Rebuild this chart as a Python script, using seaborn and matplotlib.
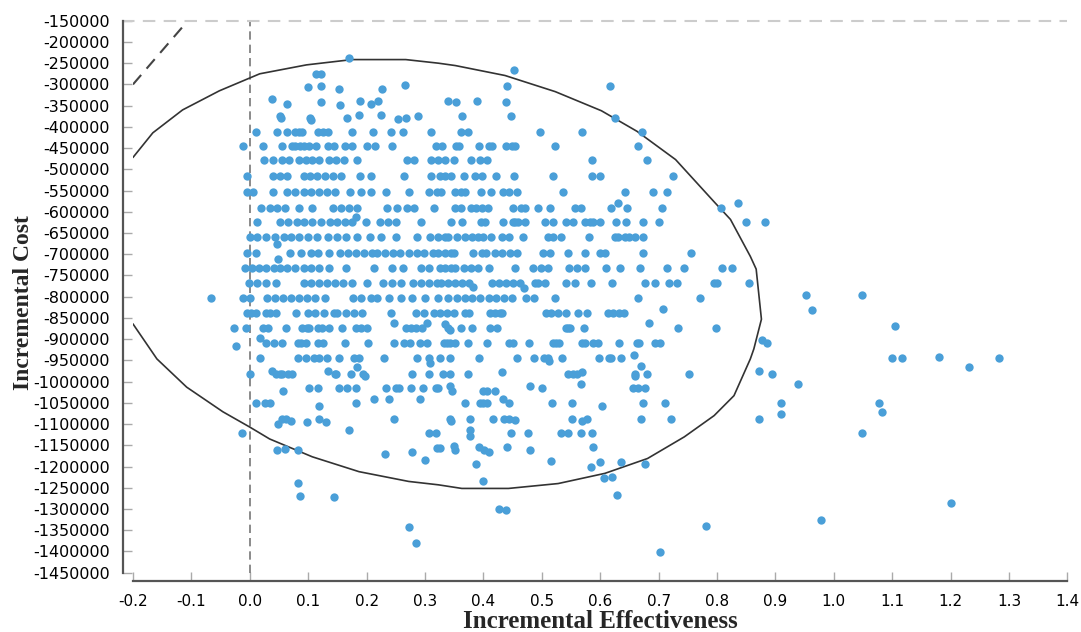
import numpy as np
import pandas as pd
import seaborn as sns
import matplotlib.pyplot as plt

# Incremental effectiveness values, one list per cost band (y)
eff_413 = [0.010, 0.046, 0.063, 0.078, 0.085, 0.090, 0.117, 0.126, 0.134, 0.175, 0.211, 0.242, 0.262,
           0.310, 0.362, 0.373, 0.497, 0.569, 0.671]
eff_446 = [-0.012, 0.022, 0.056, 0.072, 0.077, 0.086, 0.093, 0.101, 0.113, 0.134, 0.144, 0.163, 0.175,
           0.200, 0.214, 0.244, 0.319, 0.329, 0.353, 0.359, 0.392, 0.409, 0.414, 0.439, 0.449, 0.454,
           0.523, 0.665]
eff_479 = [0.025, 0.039, 0.056, 0.068, 0.085, 0.097, 0.107, 0.119, 0.136, 0.148, 0.161, 0.184, 0.269,
           0.282, 0.311, 0.323, 0.335, 0.349, 0.378, 0.395, 0.407, 0.586, 0.680]
eff_516 = [-0.004, 0.040, 0.052, 0.063, 0.092, 0.103, 0.115, 0.129, 0.143, 0.156, 0.189, 0.207, 0.264,
           0.311, 0.325, 0.335, 0.345, 0.366, 0.385, 0.397, 0.422, 0.453, 0.520, 0.586, 0.600, 0.724]
eff_554 = [-0.004, 0.005, 0.039, 0.064, 0.078, 0.092, 0.105, 0.119, 0.132, 0.146, 0.172, 0.190, 0.207,
           0.233, 0.272, 0.306, 0.320, 0.328, 0.352, 0.361, 0.369, 0.396, 0.413, 0.434, 0.443, 0.458,
           0.536, 0.642, 0.690, 0.714]
eff_590 = [0.020, 0.034, 0.047, 0.061, 0.085, 0.107, 0.142, 0.156, 0.170, 0.183, 0.235, 0.252, 0.269,
           0.282, 0.315, 0.352, 0.362, 0.378, 0.388, 0.398, 0.408, 0.451, 0.465, 0.472, 0.494, 0.514,
           0.557, 0.567, 0.618, 0.646, 0.705, 0.806]
eff_625 = [0.013, 0.052, 0.066, 0.080, 0.093, 0.107, 0.122, 0.138, 0.150, 0.163, 0.175, 0.199, 0.223,
           0.236, 0.250, 0.293, 0.345, 0.364, 0.396, 0.403, 0.434, 0.450, 0.454, 0.460, 0.472, 0.506,
           0.520, 0.541, 0.553, 0.574, 0.582, 0.588, 0.600, 0.627, 0.644, 0.673, 0.700, 0.850, 0.882]
eff_660 = [0.000, 0.013, 0.027, 0.044, 0.058, 0.071, 0.085, 0.100, 0.115, 0.134, 0.150, 0.165, 0.184,
           0.206, 0.224, 0.250, 0.286, 0.308, 0.323, 0.335, 0.340, 0.354, 0.368, 0.380, 0.391, 0.400,
           0.413, 0.431, 0.443, 0.468, 0.511, 0.520, 0.533, 0.581, 0.625, 0.630, 0.642, 0.650, 0.659,
           0.673]
eff_697 = [-0.004, 0.010, 0.069, 0.088, 0.104, 0.117, 0.136, 0.154, 0.168, 0.182, 0.195, 0.209, 0.218,
           0.231, 0.245, 0.258, 0.272, 0.286, 0.299, 0.313, 0.323, 0.335, 0.345, 0.349, 0.383, 0.397,
           0.405, 0.420, 0.431, 0.446, 0.458, 0.502, 0.514, 0.545, 0.574, 0.600, 0.608, 0.674, 0.756]
eff_733 = [-0.009, 0.003, 0.015, 0.027, 0.042, 0.052, 0.064, 0.078, 0.092, 0.105, 0.119, 0.136, 0.165,
           0.213, 0.243, 0.262, 0.294, 0.307, 0.325, 0.335, 0.345, 0.352, 0.366, 0.378, 0.391, 0.410,
           0.454, 0.485, 0.499, 0.511, 0.547, 0.560, 0.574, 0.610, 0.634, 0.668, 0.714, 0.743, 0.809,
           0.826]
eff_768 = [-0.002, 0.013, 0.028, 0.045, 0.092, 0.105, 0.119, 0.132, 0.146, 0.160, 0.175, 0.200, 0.228,
           0.243, 0.259, 0.279, 0.293, 0.306, 0.320, 0.327, 0.339, 0.351, 0.363, 0.375, 0.415, 0.427,
           0.439, 0.451, 0.463, 0.489, 0.494, 0.506, 0.542, 0.557, 0.584, 0.621, 0.676, 0.693, 0.718,
           0.732, 0.794, 0.800, 0.855]
eff_803 = [-0.066, -0.011, 0.000, 0.030, 0.044, 0.057, 0.071, 0.085, 0.098, 0.112, 0.129, 0.177, 0.190,
           0.207, 0.218, 0.238, 0.259, 0.277, 0.300, 0.323, 0.340, 0.354, 0.368, 0.381, 0.395, 0.409,
           0.422, 0.436, 0.449, 0.473, 0.487, 0.523, 0.664, 0.770]
eff_839 = [-0.004, 0.002, 0.011, 0.028, 0.034, 0.045, 0.079, 0.100, 0.112, 0.127, 0.144, 0.149, 0.165,
           0.178, 0.192, 0.241, 0.284, 0.299, 0.315, 0.325, 0.337, 0.349, 0.369, 0.375, 0.411, 0.420,
           0.428, 0.432, 0.508, 0.516, 0.527, 0.541, 0.562, 0.578, 0.614, 0.622, 0.633, 0.640]
eff_873 = [-0.027, -0.006, 0.022, 0.031, 0.062, 0.090, 0.098, 0.102, 0.116, 0.124, 0.136, 0.158, 0.182,
           0.190, 0.201, 0.267, 0.276, 0.284, 0.295, 0.340, 0.362, 0.380, 0.411, 0.423, 0.542, 0.545,
           0.549, 0.573, 0.734, 0.798]
eff_910 = [0.028, 0.042, 0.056, 0.082, 0.088, 0.096, 0.116, 0.126, 0.163, 0.202, 0.247, 0.264, 0.274,
           0.291, 0.304, 0.332, 0.338, 0.343, 0.351, 0.373, 0.407, 0.443, 0.451, 0.478, 0.519, 0.525,
           0.529, 0.568, 0.574, 0.588, 0.597, 0.633, 0.663, 0.666, 0.693, 0.702, 0.886]
eff_945 = [0.018, 0.082, 0.096, 0.110, 0.119, 0.133, 0.153, 0.178, 0.187, 0.230, 0.286, 0.306, 0.326,
           0.342, 0.392, 0.457, 0.487, 0.504, 0.511, 0.535, 0.598, 0.615, 0.619, 0.636, 1.099, 1.116,
           1.282]
eff_981 = [0.001, 0.045, 0.051, 0.056, 0.065, 0.073, 0.146, 0.148, 0.173, 0.193, 0.277, 0.307, 0.330,
           0.342, 0.373, 0.545, 0.553, 0.561, 0.660, 0.680, 0.752, 0.894]
eff_1015 = [0.101, 0.116, 0.153, 0.167, 0.182, 0.233, 0.250, 0.255, 0.276, 0.296, 0.318, 0.323, 0.501,
            0.656, 0.664, 0.677]
eff_1050 = [0.010, 0.026, 0.034, 0.182, 0.368, 0.394, 0.399, 0.407, 0.444, 0.518, 0.552, 0.673, 0.711,
            0.910, 1.078]
eff_1087 = [0.056, 0.062, 0.119, 0.247, 0.343, 0.377, 0.417, 0.436, 0.443, 0.552, 0.578, 0.669, 0.721,
            0.872]
eff_1122 = [-0.013, 0.306, 0.318, 0.448, 0.477, 0.533, 0.545, 0.567, 0.586, 1.049]

band_costs = [-413000, -446000, -479000, -516000, -554000, -590000, -625000, -660000, -697000,
              -733000, -768000, -803000, -839000, -873000, -910000, -945000, -981000, -1015000,
              -1050000, -1087000, -1122000]

# points that sit off the bands (effect, cost)
pts_upper = [(0.170, -237000), (0.113, -276000), (0.122, -276000), (0.452, -267000),
             (0.100, -307000), (0.122, -303000), (0.153, -311000), (0.227, -310000), (0.265, -301000),
             (0.441, -303000), (0.617, -304000), (0.038, -335000), (0.064, -345000), (0.122, -342000),
             (0.154, -349000), (0.189, -338000), (0.208, -347000), (0.220, -338000), (0.339, -339000),
             (0.353, -341000), (0.389, -338000), (0.439, -342000), (0.052, -374000), (0.054, -378000),
             (0.103, -378000), (0.104, -383000), (0.166, -378000), (0.187, -373000), (0.224, -371000),
             (0.254, -382000), (0.268, -378000), (0.288, -375000), (0.364, -374000), (0.447, -374000),
             (0.625, -378000)]
pts_middle = [(0.630, -580000), (0.836, -580000), (0.182, -612000), (0.047, -675000), (0.049, -710000),
              (0.383, -777000), (0.470, -779000), (0.953, -795000), (1.048, -795000), (0.708, -829000),
              (0.963, -831000), (0.247, -863000), (0.303, -863000), (0.335, -864000), (0.343, -879000),
              (0.684, -863000), (1.104, -869000), (-0.023, -916000), (0.017, -898000), (0.877, -901000),
              (0.309, -955000), (0.513, -952000), (0.658, -937000), (1.180, -942000), (1.231, -965000),
              (0.038, -974000), (0.134, -974000), (0.184, -966000), (0.197, -986000), (0.431, -977000),
              (0.569, -977000), (0.567, -1005000), (0.659, -986000), (0.670, -963000), (0.872, -976000)]
pts_lower = [(0.057, -1022000), (0.213, -1042000), (0.239, -1042000), (0.292, -1042000),
             (0.343, -1010000), (0.346, -1023000), (0.400, -1022000), (0.407, -1022000),
             (0.420, -1022000), (0.480, -1010000), (0.939, -1006000), (0.119, -1058000),
             (0.434, -1042000), (0.603, -1058000), (0.048, -1099000), (0.070, -1093000),
             (0.098, -1094000), (0.131, -1096000), (0.345, -1093000), (0.454, -1090000),
             (0.569, -1093000), (0.910, -1077000), (1.082, -1072000), (0.170, -1115000),
             (0.377, -1115000), (0.377, -1127000)]
pts_bottom = [(0.046, -1162000), (0.060, -1158000), (0.082, -1162000), (0.083, -1238000),
              (0.086, -1270000), (0.144, -1272000), (0.231, -1170000), (0.278, -1166000),
              (0.300, -1185000), (0.320, -1156000), (0.272, -1342000), (0.285, -1380000),
              (0.326, -1156000), (0.349, -1151000), (0.352, -1162000), (0.393, -1155000),
              (0.401, -1160000), (0.410, -1166000), (0.440, -1154000), (0.480, -1161000),
              (0.588, -1155000), (0.388, -1194000), (0.400, -1235000), (0.515, -1188000),
              (0.585, -1202000), (0.600, -1189000), (0.635, -1189000), (0.676, -1195000),
              (0.607, -1227000), (0.621, -1225000), (0.629, -1266000), (0.427, -1299000),
              (0.439, -1303000), (0.781, -1339000), (0.703, -1402000), (0.978, -1326000),
              (1.200, -1285000)]

# confidence ellipse outline (traced, clipped at x = -0.2)
ell_x = [-0.200, -0.166, -0.115, -0.052, 0.017, 0.097, 0.175, 0.267, 0.323, 0.352, 0.437, 0.523, 0.602,
         0.663, 0.729, 0.796, 0.823, 0.857, 0.867, 0.876, 0.863, 0.857, 0.829, 0.795, 0.744, 0.681,
         0.608, 0.528, 0.443, 0.363, 0.323, 0.272, 0.187, 0.107, 0.034, 0.000, -0.046, -0.108, -0.159,
         -0.200]
ell_y = [-472000, -414000, -360000, -315000, -275000, -254000, -241500, -241500, -250000, -255600,
         -279000, -317000, -362000, -410500, -477000, -578000, -618000, -705000, -735000, -853000,
         -923000, -946500, -1033000, -1080000, -1130000, -1181000, -1216000, -1240000, -1251500,
         -1251500, -1243000, -1235000, -1212000, -1177000, -1135000, -1107000, -1071000, -1013000,
         -946500, -864000]

# willingness-to-pay threshold segment
wtp_x = [-0.200, -0.106]
wtp_y = [-300000, -150000]

bands = [eff_413, eff_446, eff_479, eff_516, eff_554, eff_590, eff_625, eff_660, eff_697, eff_733,
         eff_768, eff_803, eff_839, eff_873, eff_910, eff_945, eff_981, eff_1015, eff_1050, eff_1087,
         eff_1122]
rows = []
for cost, effs in zip(band_costs, bands):
    rows += [(e, cost) for e in effs]
rows += pts_upper + pts_middle + pts_lower + pts_bottom
df = pd.DataFrame(rows, columns=['effect', 'cost'])

sns.set_style('white')
plt.rcParams['font.family'] = ['DejaVu Sans']

fig = plt.figure(figsize=(10.81, 6.32), dpi=100)
ax = fig.add_axes([0.123, 0.0938, 0.8645, 0.8734])

sns.scatterplot(data=df, x='effect', y='cost', color='#4A9FD8', s=36, linewidth=0, ax=ax, zorder=3)
ax.plot(ell_x, ell_y, color='#333333', lw=1.2, zorder=2)
ax.plot(wtp_x, wtp_y, color='#444444', lw=1.5, dashes=(6, 4), zorder=2)
ax.axvline(0, color='#777777', lw=1.2, dashes=(5, 3), zorder=1)
ax.axhline(-150000, xmin=-0.012, xmax=1, color='#cccccc', lw=1.5, dashes=(6, 4), clip_on=False)

ax.set_xlim(-0.2, 1.4)
ax.set_ylim(-1450000, -150000)
xt = np.round(np.arange(-0.2, 1.41, 0.1), 1)
ax.set_xticks(xt)
ax.set_xticklabels([f'{v:.1f}' for v in xt])
yt = np.arange(-1450000, -149999, 50000)
ax.set_yticks(yt)
ax.set_yticklabels([f'{v:d}' for v in yt])

for side in ['top', 'right']:
    ax.spines[side].set_visible(False)
ax.spines['left'].set_position(('outward', 7.5))
ax.spines['bottom'].set_position(('outward', 6))
for side in ['left', 'bottom']:
    ax.spines[side].set_color('#555555')
    ax.spines[side].set_linewidth(1.6)
ax.tick_params(left=True, bottom=True, direction='in', length=6.5, width=1, color='#aaaaaa',
               labelsize=11.5, labelcolor='black', pad=9)
ax.tick_params(axis='x', labelsize=11)

ax.set_xlabel('Incremental Effectiveness', family='Liberation Serif', weight='bold', fontsize=18)
ax.set_ylabel('Incremental Cost', family='Liberation Serif', weight='bold', fontsize=17)
ax.xaxis.set_label_coords(0.5, -0.068)
ax.yaxis.set_label_coords(-0.106, 0.49)

fig.savefig('out.png', dpi=100)
